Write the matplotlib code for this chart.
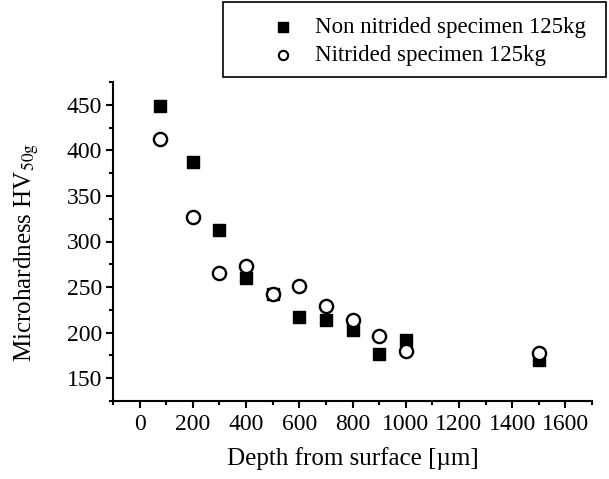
import matplotlib
matplotlib.use("Agg")
import matplotlib.pyplot as plt
from matplotlib.patches import Rectangle
from matplotlib.ticker import MultipleLocator

plt.rcParams['font.family'] = ['Liberation Serif', 'DejaVu Serif']
plt.rcParams['mathtext.fontset'] = 'stix'

# depth [um] and hardness values
depth = [75, 200, 300, 400, 500, 600, 700, 800, 900, 1000, 1500]
hv_non_nitrided = [449, 387, 313, 260, 242, 217, 214, 203, 177, 192, 170]
hv_nitrided = [412, 327, 265, 273, 242, 251, 229, 214, 196, 180, 178]

labels = ["Non nitrided specimen 125kg", "Nitrided specimen 125kg"]

fig = plt.figure(figsize=(6.09, 4.79), dpi=100)
ax = fig.add_axes([113/609, 1 - 401/479, (592-113)/609, (401-82)/479])

sq = ax.scatter(depth, hv_non_nitrided, marker='s', s=80, facecolor='black',
                edgecolor='black', linewidths=1.0, zorder=3)
ci = ax.scatter(depth, hv_nitrided, marker='o', s=90, facecolor='white',
                edgecolor='black', linewidths=1.7, zorder=4)

ax.set_xlim(-100, 1700)
ax.set_ylim(125, 475)
ax.xaxis.set_minor_locator(MultipleLocator(100))
ax.yaxis.set_minor_locator(MultipleLocator(25))
ax.set_xticks(range(0, 1601, 200))
ax.set_yticks(range(150, 451, 50))

for s in ['top', 'right']:
    ax.spines[s].set_visible(False)
for s in ['left', 'bottom']:
    ax.spines[s].set_linewidth(1.5)

ax.tick_params(which='major', direction='out', length=5, width=1.5,
               labelsize=17, pad=3)
ax.tick_params(axis='x', which='major', pad=4)
ax.tick_params(which='minor', direction='out', length=3, width=1.5)

ax.set_xlabel("Depth from surface [µm]", fontsize=18, labelpad=9)
ax.set_ylabel(r"Microhardness HV$_{\mathrm{50g}}$", fontsize=18)
ax.yaxis.set_label_coords(-0.15, 0.465)

# legend box like the original (outside the plot, top right)
fig.patches.append(Rectangle((223/609, 1 - 77/479), (606-223)/609, 75/479,
                             transform=fig.transFigure, fill=False,
                             edgecolor='black', linewidth=1.2))
h1 = ax.scatter([], [], marker='s', s=45, facecolor='black', edgecolor='black')
h2 = ax.scatter([], [], marker='o', s=45, facecolor='white', edgecolor='black',
                linewidths=1.5)
fig.legend([h1, h2], labels, loc='upper left',
           bbox_to_anchor=(250/609, 1 - 1/479), frameon=False, fontsize=16.5,
           handlelength=1.5, handletextpad=0.65, labelspacing=0.3,
           borderpad=0.2)

fig.savefig("out.png", dpi=100)
